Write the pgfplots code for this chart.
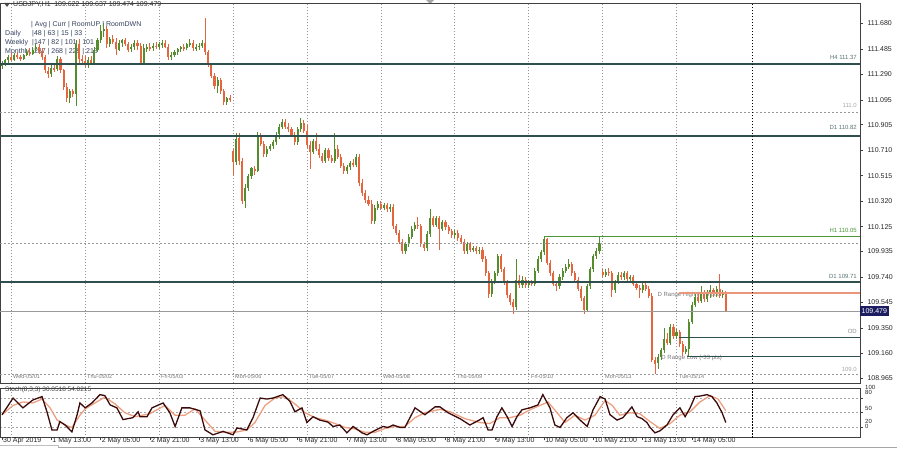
\documentclass[border=0pt]{standalone}
\usepackage{pgfplots}
\pgfplotsset{compat=1.18}
\usepackage{pgfplotstable}
\usepackage{fontspec}
\setmainfont{Liberation Sans}
\definecolor{bullc}{RGB}{84,140,46}
\definecolor{bearc}{RGB}{228,102,62}
\definecolor{lvl}{RGB}{47,79,79}
\definecolor{h1g}{RGB}{76,150,56}
\definecolor{salm}{RGB}{233,150,122}
\definecolor{navyb}{RGB}{28,28,96}
\definecolor{txt}{RGB}{52,64,92}
\definecolor{stm}{RGB}{60,10,10}
\definecolor{sts}{RGB}{236,160,130}
\definecolor{sep}{RGB}{150,150,150}
\definecolor{lbl}{RGB}{120,120,120}

\pgfplotstableread{
i o h l c
0 111.36 111.39 111.33 111.37
1 111.37 111.41 111.35 111.40
2 111.40 111.44 111.38 111.42
3 111.42 111.45 111.39 111.40
4 111.40 111.45 111.39 111.44
5 111.44 111.46 111.41 111.42
6 111.42 111.44 111.39 111.41
7 111.41 111.45 111.40 111.44
8 111.44 111.48 111.43 111.46
9 111.46 111.49 111.43 111.45
10 111.45 111.50 111.44 111.48
11 111.48 111.52 111.46 111.50
12 111.50 111.52 111.45 111.47
13 111.47 111.49 111.40 111.42
14 111.42 111.44 111.30 111.32
15 111.32 111.35 111.26 111.29
16 111.29 111.36 111.27 111.34
17 111.34 111.38 111.31 111.33
18 111.33 111.43 111.32 111.41
19 111.41 111.42 111.30 111.32
20 111.32 111.33 111.17 111.19
21 111.19 111.22 111.08 111.11
22 111.11 111.18 111.07 111.16
23 111.16 111.18 111.12 111.14
24 111.14 111.55 111.05 111.52
25 111.52 111.56 111.38 111.41
26 111.41 111.44 111.36 111.39
27 111.39 111.43 111.35 111.38
28 111.38 111.42 111.34 111.40
29 111.40 111.43 111.36 111.37
30 111.37 111.50 111.36 111.48
31 111.48 111.57 111.46 111.55
32 111.55 111.67 111.53 111.62
33 111.62 111.68 111.58 111.64
34 111.64 111.66 111.49 111.52
35 111.52 111.58 111.50 111.56
36 111.56 111.59 111.52 111.54
37 111.54 111.57 111.44 111.48
38 111.48 111.55 111.47 111.53
39 111.53 111.56 111.50 111.55
40 111.55 111.57 111.51 111.52
41 111.52 111.54 111.46 111.48
42 111.48 111.52 111.46 111.50
43 111.50 111.55 111.48 111.53
44 111.53 111.55 111.48 111.51
45 111.51 111.53 111.36 111.38
46 111.38 111.52 111.36 111.49
47 111.49 111.52 111.46 111.50
48 111.50 111.53 111.47 111.49
49 111.49 111.53 111.47 111.51
50 111.51 111.54 111.48 111.50
51 111.50 111.54 111.48 111.52
52 111.52 111.55 111.49 111.53
53 111.53 111.55 111.49 111.50
54 111.50 111.52 111.40 111.42
55 111.42 111.46 111.40 111.44
56 111.44 111.48 111.42 111.46
57 111.46 111.49 111.44 111.48
58 111.48 111.51 111.46 111.50
59 111.50 111.52 111.47 111.49
60 111.49 111.53 111.48 111.52
61 111.52 111.56 111.50 111.53
62 111.53 111.55 111.47 111.49
63 111.49 111.52 111.47 111.50
64 111.50 111.53 111.48 111.51
65 111.51 111.55 111.49 111.53
66 111.53 111.72 111.44 111.46
67 111.46 111.48 111.35 111.37
68 111.37 111.38 111.26 111.28
69 111.28 111.30 111.18 111.20
70 111.20 111.27 111.15 111.25
71 111.25 111.26 111.14 111.16
72 111.16 111.18 111.06 111.08
73 111.08 111.12 111.06 111.11
74 111.11 111.13 111.08 111.10
75 110.70 110.72 110.52 110.62
76 110.62 110.84 110.60 110.80
77 110.80 110.84 110.60 110.63
78 110.63 110.65 110.30 110.32
79 110.32 110.45 110.27 110.42
80 110.42 110.53 110.40 110.51
81 110.51 110.58 110.49 110.57
82 110.57 110.59 110.52 110.55
83 110.55 110.85 110.54 110.82
84 110.82 110.84 110.74 110.76
85 110.76 110.78 110.66 110.68
86 110.68 110.74 110.66 110.72
87 110.72 110.76 110.70 110.74
88 110.74 110.79 110.72 110.77
89 110.77 110.85 110.75 110.83
90 110.83 110.91 110.80 110.89
91 110.89 110.95 110.87 110.93
92 110.93 110.95 110.87 110.89
93 110.89 110.92 110.85 110.87
94 110.87 110.89 110.81 110.83
95 110.83 110.85 110.75 110.77
96 110.77 110.89 110.75 110.87
97 110.87 110.96 110.85 110.92
98 110.92 110.94 110.84 110.86
99 110.86 110.90 110.73 110.75
100 110.75 110.78 110.57 110.70
101 110.70 110.80 110.68 110.78
102 110.78 110.84 110.70 110.72
103 110.72 110.76 110.65 110.67
104 110.67 110.69 110.61 110.63
105 110.63 110.73 110.61 110.71
106 110.71 110.73 110.63 110.65
107 110.65 110.67 110.61 110.63
108 110.63 110.84 110.61 110.72
109 110.72 110.75 110.64 110.66
110 110.66 110.68 110.57 110.59
111 110.59 110.61 110.53 110.55
112 110.55 110.60 110.53 110.58
113 110.58 110.63 110.56 110.61
114 110.61 110.64 110.58 110.60
115 110.60 110.68 110.58 110.66
116 110.66 110.68 110.44 110.46
117 110.46 110.49 110.36 110.38
118 110.38 110.41 110.31 110.33
119 110.33 110.36 110.28 110.30
120 110.30 110.33 110.15 110.17
121 110.17 110.29 110.15 110.27
122 110.27 110.32 110.25 110.30
123 110.30 110.32 110.25 110.27
124 110.27 110.31 110.25 110.29
125 110.29 110.31 110.24 110.26
126 110.26 110.30 110.24 110.28
127 110.28 110.30 110.11 110.13
128 110.13 110.15 110.06 110.08
129 110.08 110.10 109.99 110.01
130 110.01 110.03 109.92 109.94
131 109.94 110.01 109.92 109.99
132 109.99 110.07 109.97 110.05
133 110.05 110.13 110.03 110.11
134 110.11 110.16 110.09 110.14
135 110.14 110.20 110.11 110.13
136 110.13 110.15 109.97 109.99
137 109.99 110.01 109.94 109.96
138 109.96 110.09 109.94 110.07
139 110.07 110.26 110.05 110.19
140 110.19 110.21 110.12 110.14
141 110.14 110.21 110.12 110.19
142 110.19 110.21 109.95 110.11
143 110.11 110.18 110.09 110.16
144 110.16 110.18 110.10 110.12
145 110.12 110.14 110.07 110.09
146 110.09 110.11 110.04 110.06
147 110.06 110.10 110.04 110.08
148 110.08 110.10 110.02 110.04
149 110.04 110.06 109.99 110.01
150 110.01 110.03 109.92 109.94
151 109.94 110.01 109.92 109.99
152 109.99 110.01 109.93 109.95
153 109.95 109.98 109.93 109.96
154 109.96 109.98 109.92 109.94
155 109.94 109.97 109.92 109.95
156 109.95 109.97 109.86 109.88
157 109.88 109.90 109.75 109.77
158 109.77 109.79 109.58 109.61
159 109.61 109.73 109.59 109.71
160 109.71 109.79 109.69 109.77
161 109.77 109.92 109.75 109.90
162 109.90 109.92 109.78 109.80
163 109.80 109.82 109.68 109.70
164 109.70 109.72 109.58 109.60
165 109.60 109.62 109.53 109.55
166 109.55 109.57 109.46 109.51
167 109.51 109.88 109.49 109.72
168 109.72 109.76 109.66 109.68
169 109.68 109.75 109.66 109.72
170 109.72 109.74 109.66 109.68
171 109.68 109.72 109.66 109.70
172 109.70 109.72 109.67 109.69
173 109.69 109.81 109.67 109.79
174 109.79 109.90 109.77 109.88
175 109.88 109.95 109.86 109.93
176 109.93 110.05 109.91 110.03
177 110.03 110.04 109.83 109.85
178 109.85 109.87 109.75 109.77
179 109.77 109.79 109.67 109.69
180 109.69 109.71 109.63 109.67
181 109.67 109.76 109.65 109.74
182 109.74 109.81 109.72 109.79
183 109.79 109.84 109.77 109.82
184 109.82 109.88 109.80 109.84
185 109.84 109.86 109.75 109.77
186 109.77 109.79 109.70 109.72
187 109.72 109.74 109.63 109.65
188 109.65 109.67 109.56 109.58
189 109.58 109.60 109.46 109.49
190 109.49 109.69 109.47 109.67
191 109.67 109.82 109.65 109.80
192 109.80 109.92 109.78 109.90
193 109.90 109.96 109.88 109.94
194 109.94 110.05 109.92 110.00
195 109.78 109.80 109.74 109.76
196 109.76 109.80 109.74 109.78
197 109.78 109.81 109.75 109.77
198 109.77 109.79 109.59 109.64
199 109.64 109.72 109.62 109.71
200 109.71 109.78 109.69 109.76
201 109.76 109.78 109.72 109.74
202 109.74 109.79 109.72 109.77
203 109.77 109.79 109.71 109.73
204 109.73 109.76 109.71 109.74
205 109.74 109.76 109.67 109.69
206 109.69 109.71 109.64 109.66
207 109.66 109.68 109.58 109.64
208 109.64 109.70 109.62 109.68
209 109.68 109.70 109.63 109.65
210 109.65 109.67 109.58 109.60
211 109.60 109.62 109.09 109.11
212 109.11 109.13 109.00 109.08
213 109.08 109.15 109.04 109.13
214 109.13 109.20 109.11 109.18
215 109.18 109.35 109.16 109.27
216 109.27 109.31 109.22 109.24
217 109.24 109.38 109.22 109.36
218 109.36 109.38 109.27 109.29
219 109.29 109.34 109.27 109.32
220 109.32 109.34 109.21 109.23
221 109.23 109.25 109.14 109.17
222 109.17 109.21 109.15 109.19
223 109.19 109.42 109.14 109.40
224 109.40 109.55 109.38 109.53
225 109.53 109.61 109.51 109.59
226 109.59 109.62 109.54 109.56
227 109.56 109.67 109.54 109.61
228 109.61 109.64 109.55 109.57
229 109.57 109.64 109.55 109.62
230 109.62 109.68 109.58 109.64
231 109.64 109.66 109.59 109.61
232 109.61 109.67 109.59 109.65
233 109.65 109.76 109.58 109.60
234 109.60 109.64 109.58 109.62
235 109.622 109.637 109.474 109.479
}\candles

\pgfplotstableread{
i v
0 46
3.6 80
6.8 60
10 76
13 83
14.6 52
16.2 15
17.9 15
18.8 32
20.5 25
22.7 11
24.4 46
25.3 70
27 60
29.2 70
31.8 87
33.4 85
35.1 66
37.3 60
39.3 36
42.5 40
44.2 52
44.8 42
47.1 42
48.7 60
52.3 70
54.5 50
56.2 22
58.4 60
61 60
64.3 54
65.9 15
68.5 5
71.8 12
75 5
76.3 19
79.5 15
81.5 40
83.8 80
86 78
88 80
91.2 87
93.5 73
95.1 52
97.4 60
99 30
101 42
103.2 35
105.8 31
107.5 22
109.7 25
112 9
114 22
116.9 9
118.5 5
120.5 12
123.7 22
125.3 20
127 25
129.2 20
130.8 20
134.1 60
137.3 46
140.6 62
142.2 62
144.8 50
148.7 38
151.9 25
155.2 36
156.2 40
157.8 15
159.1 15
160.7 42
162.3 60
164 42
165.6 22
167.2 42
168.8 56
171.4 60
174 66
175.6 87
177.9 60
179.5 25
181.2 20
183.4 40
185.4 50
187.7 35
190 22
191.9 56
194.2 83
195.8 78
197.4 46
199.7 35
201.6 40
204.5 62
206.2 42
207.8 38
209.4 30
210.4 20
212 9
213.6 13
215.9 25
217.9 46
220.1 60
221.8 42
223.4 60
225 83
226.6 84
228.9 87
230.5 83
232.1 70
233.8 50
235 30.05
}\stochmain

\pgfplotstableread{
i v
0 46
3.6 65
6.8 72
10 70
13 78
15.6 60
17.9 35
20.5 25
22.7 20
25.3 45
27 58
30.2 70
33.4 82
36.7 68
39.9 50
43.2 42
48 48
52.9 65
56.2 45
59.4 45
62.7 58
65.9 35
69.2 12
72.4 10
75.6 10
79.5 15
82.1 30
85.4 65
88.6 80
91.9 83
95.1 68
98.4 50
101.6 40
104.9 35
108.1 28
111.4 20
114.6 17
117.9 10
121.1 10
124.4 18
127.6 22
130.8 22
134.1 40
137.3 50
142.2 57
145.5 52
150.3 38
155.2 30
158.4 28
161.7 40
164.9 40
168.2 45
171.4 56
174.7 65
177.3 72
180.5 48
182.8 30
186 45
189.3 35
192.5 45
195.8 75
198.1 65
200.6 45
203.9 50
207.1 48
210.4 32
213.6 18
216.9 28
220.1 45
223.4 52
226.6 72
229.9 85
232.5 78
235 54.02
}\stochsig

\newcommand{\fs}[1]{\fontsize{#1}{#1}\selectfont}

\begin{document}
\begin{tikzpicture}[x=1pt,y=1pt]

% header and info text (behind the candles)
\fill[black!70] (4,447) -- (10,447) -- (7,443) -- cycle;
\node[anchor=west, inner sep=0pt, font=\fs{7}, text=black!85] at (13,445) {USDJPY,H1\enspace 109.622 109.637 109.474 109.479};
\node[anchor=west, inner sep=0pt, font=\fs{7}, text=txt] at (31,425) {| Avg | Curr | RoomUP | RoomDWN};
\node[anchor=west, inner sep=0pt, font=\fs{7}, text=txt] at (5,416) {Daily};
\node[anchor=west, inner sep=0pt, font=\fs{7}, text=txt] at (32,416) {|48 | 63 | 15 | 33};
\node[anchor=west, inner sep=0pt, font=\fs{7}, text=txt] at (5,407) {Weekly};
\node[anchor=west, inner sep=0pt, font=\fs{7}, text=txt] at (32,407) {|147 | 82 | 101 | 101};
\node[anchor=west, inner sep=0pt, font=\fs{7}, text=txt] at (5,398) {Monthly};
\node[anchor=west, inner sep=0pt, font=\fs{7}, text=txt] at (32,398) {|287 | 268 | 229 | 215};
\fill[black!35] (426,450) -- (434,450) -- (430,446) -- cycle;

% range texts
\node[anchor=east, inner sep=0pt, font=\fs{6}, text=lbl] at (721,155) {D Range High (+15 pts)};
\node[anchor=east, inner sep=0pt, font=\fs{6}, text=lbl] at (722,92) {D Range Low (-33 pts)};

% day labels inside main panel
\node[anchor=west, inner sep=0pt, font=\fs{5.5}, text=lbl] at (13,73) {Wed-05/01};
\node[anchor=west, inner sep=0pt, font=\fs{5.5}, text=lbl] at (87,73) {Thu-05/02};
\node[anchor=west, inner sep=0pt, font=\fs{5.5}, text=lbl] at (161,73) {Fri-05/03};
\node[anchor=west, inner sep=0pt, font=\fs{5.5}, text=lbl] at (235,73) {Mon-05/06};
\node[anchor=west, inner sep=0pt, font=\fs{5.5}, text=lbl] at (309,73) {Tue-05/07};
\node[anchor=west, inner sep=0pt, font=\fs{5.5}, text=lbl] at (383,73) {Wed-05/08};
\node[anchor=west, inner sep=0pt, font=\fs{5.5}, text=lbl] at (457,73) {Thu-05/09};
\node[anchor=west, inner sep=0pt, font=\fs{5.5}, text=lbl] at (531,73) {Fri-05/10};
\node[anchor=west, inner sep=0pt, font=\fs{5.5}, text=lbl] at (605,73) {Mon-05/13};
\node[anchor=west, inner sep=0pt, font=\fs{5.5}, text=lbl] at (679,73) {Tue-05/14};

\begin{axis}[
  at={(0,51)}, anchor=south west,
  scale only axis, width=860pt, height=380pt,
  xmin=-0.65, xmax=278.57, ymin=108.928, ymax=111.833,
  axis line style={draw=black!75, line width=0.8pt},
  xtick={3,27,51,75,99,123,147,171,195,219},
  xticklabels={},
  xtick pos=bottom,
  xtick style={draw=none},
  xmajorgrids,
  major x grid style={sep, line width=0.6pt, dash pattern=on 1pt off 2pt},
  ytick={108.965,109.160,109.350,109.545,109.740,109.935,110.125,110.320,110.515,110.710,110.905,111.095,111.290,111.485,111.680},
  ytick pos=right, ytick align=outside,
  ytick style={draw=black!75, line width=0.6pt},
  major tick length=3pt,
  scaled y ticks=false,
  yticklabel style={font=\fs{7}, text=black!85, xshift=1pt,
     /pgf/number format/.cd, fixed, fixed zerofill, precision=3, assume math mode=true},
  clip=false,
]
% candle wicks and bodies
\addplot[draw=none, mark=none, forget plot,
  restrict expr to domain={\thisrow{c}-\thisrow{o}}{0:10},
  error bars/.cd, y dir=both, y explicit, error mark=none,
  error bar style={draw=bullc, line width=0.8pt}]
  table[x=i, y expr={(\thisrow{h}+\thisrow{l})/2}, y error expr={(\thisrow{h}-\thisrow{l})/2}] {\candles};
\addplot[draw=none, mark=none, forget plot,
  restrict expr to domain={\thisrow{c}-\thisrow{o}}{0:10},
  error bars/.cd, y dir=both, y explicit, error mark=none,
  error bar style={draw=bullc, line width=2.1pt}]
  table[x=i, y expr={(\thisrow{o}+\thisrow{c})/2}, y error expr={max(abs(\thisrow{c}-\thisrow{o})/2,0.004)}] {\candles};
\addplot[draw=none, mark=none, forget plot,
  restrict expr to domain={\thisrow{o}-\thisrow{c}}{0.00001:10},
  error bars/.cd, y dir=both, y explicit, error mark=none,
  error bar style={draw=bearc, line width=0.8pt}]
  table[x=i, y expr={(\thisrow{h}+\thisrow{l})/2}, y error expr={(\thisrow{h}-\thisrow{l})/2}] {\candles};
\addplot[draw=none, mark=none, forget plot,
  restrict expr to domain={\thisrow{o}-\thisrow{c}}{0.00001:10},
  error bars/.cd, y dir=both, y explicit, error mark=none,
  error bar style={draw=bearc, line width=2.1pt}]
  table[x=i, y expr={(\thisrow{o}+\thisrow{c})/2}, y error expr={max(abs(\thisrow{c}-\thisrow{o})/2,0.004)}] {\candles};

% round levels
\addplot[black!40, line width=0.6pt, dash pattern=on 2pt off 2pt, forget plot] coordinates {(-0.65,111.0) (278.57,111.0)};
\addplot[black!40, line width=0.6pt, dash pattern=on 2pt off 2pt, forget plot] coordinates {(-0.65,110.0) (278.57,110.0)};
\addplot[black!40, line width=0.6pt, dash pattern=on 2pt off 2pt, forget plot] coordinates {(-0.65,109.0) (278.57,109.0)};
% levels
\addplot[lvl, line width=1.8pt, forget plot] coordinates {(-0.65,111.37) (278.57,111.37)};
\addplot[lvl, line width=1.8pt, forget plot] coordinates {(-0.65,110.82) (278.57,110.82)};
\addplot[lvl, line width=1.8pt, forget plot] coordinates {(-0.65,109.70) (278.57,109.70)};
\addplot[h1g, line width=1.8pt, forget plot] coordinates {(176,110.05) (278.57,110.05)};
\addplot[salm, line width=1.6pt, forget plot] coordinates {(219.8,109.62) (278.57,109.62)};
\addplot[lvl, line width=1.3pt, forget plot] coordinates {(219.8,109.28) (278.57,109.28)};
\addplot[lvl, line width=1.3pt, forget plot] coordinates {(222.5,109.135) (278.57,109.135)};
\addplot[black!40, line width=0.7pt, forget plot] coordinates {(-0.65,109.479) (278.57,109.479)};
% shift marker
\addplot[black, line width=0.8pt, dash pattern=on 1.5pt off 1.5pt, forget plot] coordinates {(243.5,108.928) (243.5,111.833)};
% bid label
\node[anchor=west, fill=navyb, text=white, font=\fs{7}, inner xsep=1.5pt, inner ysep=0pt, minimum height=10pt] at (axis cs:278.57,109.479) {109.479};
\end{axis}

% level labels
\node[anchor=east, inner sep=0pt, font=\fs{6}, text=lvl!80] at (857,393) {H4 111.37};
\node[anchor=east, inner sep=0pt, font=\fs{6}, text=black!35] at (857,344.5) {111.0};
\node[anchor=east, inner sep=0pt, font=\fs{6}, text=lvl!80] at (857,322.5) {D1 110.82};
\node[anchor=east, inner sep=0pt, font=\fs{6}, text=h1g] at (857,219.5) {H1 110.05};
\node[anchor=east, inner sep=0pt, font=\fs{6}, text=lvl!80] at (857,174) {D1 109.71};
\node[anchor=east, inner sep=0pt, font=\fs{6}, text=black!45] at (857,119) {OD};
\node[anchor=east, inner sep=0pt, font=\fs{6}, text=black!35] at (857,81) {109.0};

\begin{axis}[
  at={(0,25)}, anchor=south west,
  scale only axis, width=860pt, height=49pt,
  xmin=-0.65, xmax=278.57, ymin=-1, ymax=99,
  axis line style={draw=black!75, line width=0.8pt},
  xtick={0,16,32,48,64,80,96,112,128,144,160,176,192,208,224},
  xticklabels={30 Apr 2019,1 May 13:00,2 May 05:00,2 May 21:00,3 May 13:00,6 May 05:00,6 May 21:00,7 May 13:00,8 May 05:00,8 May 21:00,9 May 13:00,10 May 05:00,10 May 21:00,13 May 13:00,14 May 05:00},
  xtick pos=bottom, xtick align=outside,
  xtick style={draw=black!75, line width=0.6pt},
  major tick length=2.5pt,
  xticklabel style={anchor=north west, xshift=0pt, yshift=3.5pt, inner sep=1pt, font=\fs{7}, text=black!85},
  extra x ticks={3,27,51,75,99,123,147,171,195,219},
  extra x tick labels={},
  extra x tick style={grid=major, major grid style={sep, line width=0.6pt, dash pattern=on 1pt off 2pt}, xtick style={draw=none}},
  ytick={20,50,80}, yticklabels={},
  ytick pos=right, ytick align=outside,
  ytick style={draw=black!75, line width=0.6pt},
  ymajorgrids,
  major y grid style={black!35, line width=0.6pt, dash pattern=on 2pt off 2pt},
  clip=false,
]
\addplot[sts, line width=1.3pt, forget plot] table[x=i, y=v] {\stochsig};
\addplot[stm, line width=1.3pt, forget plot] table[x=i, y=v] {\stochmain};
\addplot[black, line width=0.8pt, dash pattern=on 1.5pt off 1.5pt, forget plot] coordinates {(243.5,-1) (243.5,99)};
\end{axis}

\node[anchor=west, inner sep=0pt, font=\fs{6.5}, text=black!75] at (5,60) {Stoch(8,3,3) 30.0518 54.0215};
\foreach \yy/\tt in {62.5/100,57.5/80,42/50,28.5/20,24/0}
  \node[anchor=west, inner sep=0pt, font=\fs{6}, text=black!85] at (865,\yy) {\tt};

\draw[black!35, line width=0.8pt] (58,3) -- (897,3);
\draw[black!25, line width=0.6pt] (0,5) -- (58,5) -- (58,3);

\pgfresetboundingbox
\path[use as bounding box] (0,0) rectangle (897,450);
\end{tikzpicture}
\end{document}
